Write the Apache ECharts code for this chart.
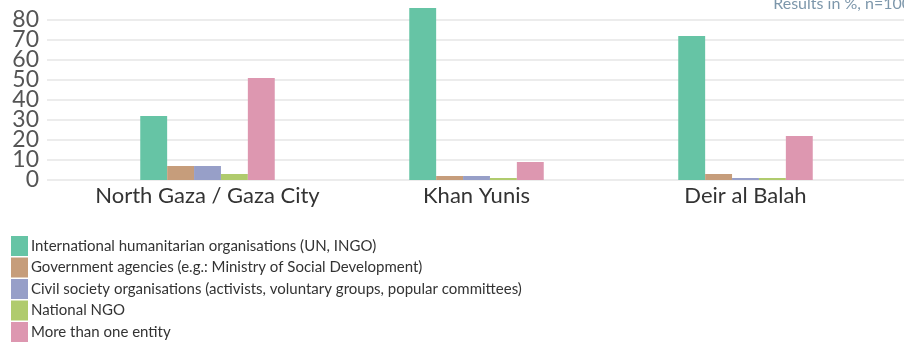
<!DOCTYPE html>
<html>
<head>
<meta charset="utf-8">
<script src="https://cdn.jsdelivr.net/npm/echarts@6/dist/echarts.min.js"></script>
<style>
  html, body { margin: 0; padding: 0; background: #fff; }
  #chart { width: 904px; height: 342px; }
</style>
</head>
<body>
<div id="chart"></div>
<script>
var regions = ["North Gaza / Gaza City", "Khan Yunis", "Deir al Balah"];
var entityNames = [
    "International humanitarian organisations (UN, INGO)",
    "Government agencies (e.g.: Ministry of Social Development)",
    "Civil society organisations (activists, voluntary groups, popular committees)",
    "National NGO",
    "More than one entity"
];
var intlOrgs = [32, 86, 72];
var govAgencies = [7, 2, 3];
var civilSociety = [7, 2, 1];
var nationalNgo = [3, 1, 1];
var moreThanOne = [51, 9, 22];
var yTicks = ["0", "10", "20", "30", "40", "50", "60", "70", "80"];
var colors = ["#66c4a5", "#c69d7b", "#979fc8", "#b0cb6d", "#dd97b0"];

var seriesValues = [intlOrgs, govAgencies, civilSociety, nationalNgo, moreThanOne];
var fontFam = "Lato, 'Noto Sans', sans-serif";

var myChart = echarts.init(document.getElementById("chart"));

var series = [];
for (var i = 0; i < entityNames.length; i++) {
    series.push({
        name: entityNames[i],
        type: "bar",
        xAxisIndex: 1,
        yAxisIndex: 1,
        data: seriesValues[i],
        barGap: "0%",
        barCategoryGap: "50%",
        clip: false,
        itemStyle: { color: colors[i] }
    });
}

myChart.setOption({
    animation: false,
    color: colors,
    title: {
        text: "Results in %, n=100",
        right: -12,
        top: -9,
        textStyle: { fontFamily: fontFam, fontSize: 16, fontWeight: "normal", color: "#7d97ab" }
    },
    legend: {
        orient: "vertical",
        left: 6,
        top: 231,
        height: 140,
        itemWidth: 17,
        itemHeight: 20,
        itemGap: 1.5,
        icon: "rect",
        selectedMode: false,
        textStyle: { fontFamily: fontFam, fontSize: 15, color: "#333", padding: [0, 0, 0, -2] },
        data: entityNames
    },
    grid: [
        { left: 47, right: 0, top: 20, bottom: 162 },
        { left: 73, right: 24, top: 20, bottom: 162 }
    ],
    xAxis: [
        { gridIndex: 0, type: "value", min: 0, max: 1, show: false },
        {
            gridIndex: 1,
            type: "category",
            data: regions,
            axisLine: { show: false },
            axisTick: { show: false },
            axisLabel: { interval: 0, fontFamily: fontFam, fontSize: 22, color: "#333", margin: 5 }
        }
    ],
    yAxis: [
        {
            // tick labels + gridlines spanning the full width
            gridIndex: 0,
            type: "category",
            data: yTicks,
            boundaryGap: false,
            axisLine: { show: false },
            axisTick: { show: false },
            axisLabel: { interval: 0, fontFamily: fontFam, fontSize: 23, color: "#555", margin: 8 },
            splitLine: { show: true, interval: 0, lineStyle: { color: "#e6e6e6", width: 1.5 } }
        },
        {
            gridIndex: 1,
            type: "value",
            min: 0,
            max: 80,
            interval: 10,
            show: false
        }
    ],
    series: series
});
</script>
</body>
</html>
